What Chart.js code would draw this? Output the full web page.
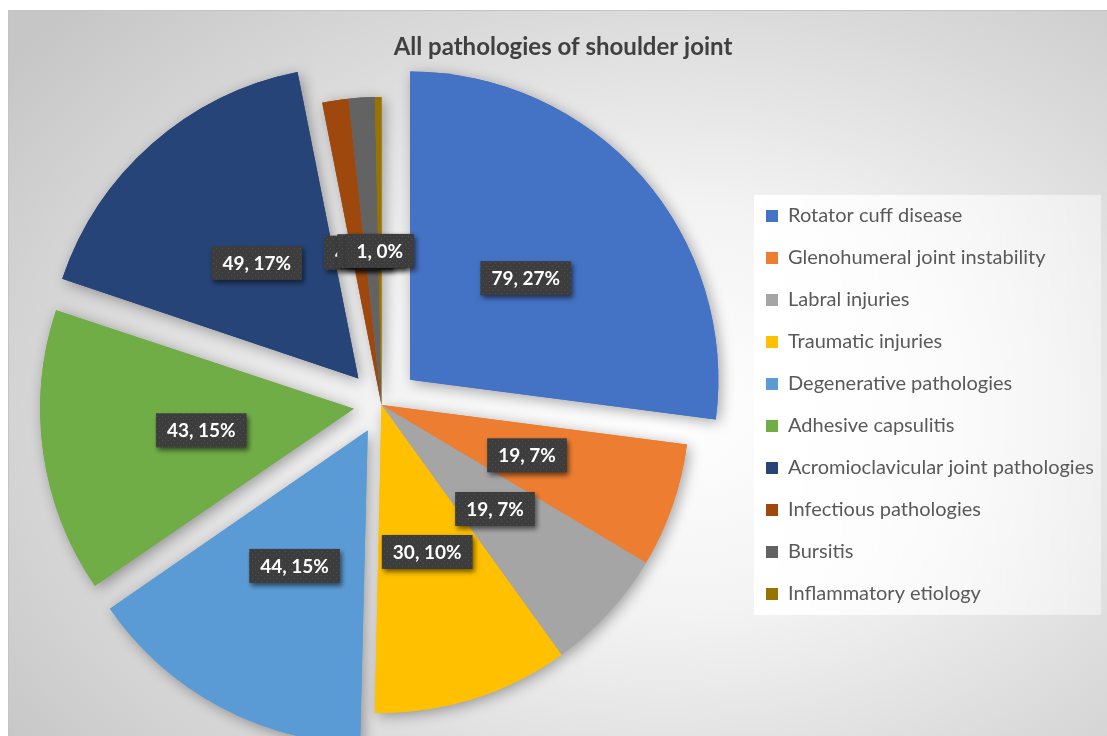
<!DOCTYPE html>
<html>
<head>
<meta charset="utf-8">
<script src="https://cdn.jsdelivr.net/npm/chart.js@4.4.1/dist/chart.umd.min.js"></script>
<style>
  html, body { margin: 0; padding: 0; background: #fff; }
  #frame {
    position: absolute; left: 8px; top: 10px; width: 1099px; height: 726px;
    border-top: 1px solid #c4c4c4; border-left: 1px solid #c4c4c4;
    background: radial-gradient(ellipse 75% 80% at 60% 55%, #ffffff 0%, #f3f3f3 35%, #dadada 70%, #c6c6c6 100%);
  }
  #graphShoulder { position: absolute; left: 8px; top: 10px; }
</style>
</head>
<body>
<div id="frame"></div>
<canvas id="graphShoulder" width="1099" height="726"></canvas>
<script>
const pathologies = [
  'Rotator cuff disease',
  'Glenohumeral joint instability',
  'Labral injuries',
  'Traumatic injuries',
  'Degenerative pathologies',
  'Adhesive capsulitis',
  'Acromioclavicular joint pathologies',
  'Infectious pathologies',
  'Bursitis',
  'Inflammatory etiology'
];
const cases = [79, 19, 19, 30, 44, 43, 49, 4, 4, 1];
const sliceColors = ['#4472C4', '#ED7D31', '#A5A5A5', '#FFC000', '#5B9BD5',
                     '#70AD47', '#264478', '#9E480E', '#636363', '#997300'];
// how far each slice is pulled out, in px
const explode = [38, 0, 0, 0, 29, 28, 35, 0, 0, 0];

const fontFamily = 'Lato, "Open Sans", sans-serif';
const total = cases.reduce((a, b) => a + b, 0);

// dotted fill for the value boxes
const dots = document.createElement('canvas');
dots.width = 6; dots.height = 6;
const dctx = dots.getContext('2d');
dctx.fillStyle = '#3d3d3d';
dctx.fillRect(0, 0, 6, 6);
dctx.fillStyle = '#525252';
dctx.fillRect(1, 1, 1, 1);
dctx.fillRect(4, 4, 1, 1);

const legendWidth = {
  id: 'legendWidth',
  beforeInit(chart) {
    const fit = chart.legend.fit;
    chart.legend.fit = function () {
      fit.call(this);
      this.width = 363;
    };
  }
};

const legendBox = {
  id: 'legendBox',
  beforeDraw(chart) {
    const lg = chart.legend;
    const hb = lg.legendHitBoxes;
    if (!hb || !hb.length) return;
    const ctx = chart.ctx;
    const left = hb[0].left - 12;
    const top = hb[0].top - 11;
    const bottom = hb[hb.length - 1].top + 31;
    const right = lg.right - 6;
    const g = ctx.createLinearGradient(left, 0, right, 0);
    g.addColorStop(0, 'rgba(255,255,255,0.95)');
    g.addColorStop(1, 'rgba(255,255,255,0.45)');
    ctx.save();
    ctx.fillStyle = g;
    ctx.fillRect(left, top, right - left, bottom - top);
    ctx.restore();
  }
};

const pieShadow = {
  id: 'pieShadow',
  beforeDatasetsDraw(chart) {
    const ctx = chart.ctx;
    ctx.save();
    ctx.shadowColor = 'rgba(0,0,0,0.35)';
    ctx.shadowBlur = 14;
    ctx.shadowOffsetX = 3;
    ctx.shadowOffsetY = 3;
    chart.getDatasetMeta(0).data.forEach(a => a.draw(ctx));
    ctx.restore();
  }
};

const valueLabels = {
  id: 'valueLabels',
  afterDatasetsDraw(chart) {
    const ctx = chart.ctx;
    ctx.save();
    ctx.font = 'bold 19px ' + fontFamily;
    ctx.textAlign = 'center';
    ctx.textBaseline = 'middle';
    chart.getDatasetMeta(0).data.forEach((arc, i) => {
      const p = arc.getProps(['x', 'y', 'startAngle', 'endAngle', 'outerRadius'], true);
      const mid = (p.startAngle + p.endAngle) / 2;
      const d = p.outerRadius * 0.5 + arc.options.offset / 4;
      const px = p.x + Math.cos(mid) * d;
      const py = p.y + Math.sin(mid) * d;
      const txt = cases[i] + ', ' + Math.round(cases[i] / total * 100) + '%';
      const w = ctx.measureText(txt).width + 22;
      const h = 34;
      ctx.save();
      ctx.shadowColor = 'rgba(0,0,0,0.55)';
      ctx.shadowBlur = 5;
      ctx.shadowOffsetX = 2;
      ctx.shadowOffsetY = 3;
      ctx.fillStyle = ctx.createPattern(dots, 'repeat');
      ctx.fillRect(px - w / 2, py - h / 2, w, h);
      ctx.restore();
      ctx.fillStyle = '#ffffff';
      ctx.fillText(txt, px, py + 1);
    });
    ctx.restore();
  }
};

const ctx = document.getElementById('graphShoulder');
new Chart(ctx, {
  type: 'pie',
  data: {
    labels: pathologies,
    datasets: [{
      data: cases,
      backgroundColor: sliceColors,
      borderWidth: 0,
      offset: explode.map(v => v * 4), // chart.js moves arcs by offset / 4
      radius: 308,
      clip: false
    }]
  },
  options: {
    responsive: false,
    animation: false,
    layout: { padding: { left: 11, right: 0, top: 0, bottom: 0 } },
    plugins: {
      title: {
        display: true,
        text: 'All pathologies of shoulder joint',
        color: '#404040',
        font: { family: fontFamily, size: 24, weight: 'bold' },
        padding: { top: 23, bottom: 12 }
      },
      legend: {
        position: 'right',
        fullSize: false,
        labels: {
          boxWidth: 12,
          boxHeight: 12,
          padding: 22,
          color: '#595959',
          font: { family: fontFamily, size: 20 }
        }
      },
      tooltip: { enabled: false }
    }
  },
  plugins: [legendWidth, legendBox, pieShadow, valueLabels]
});
</script>
</body>
</html>
